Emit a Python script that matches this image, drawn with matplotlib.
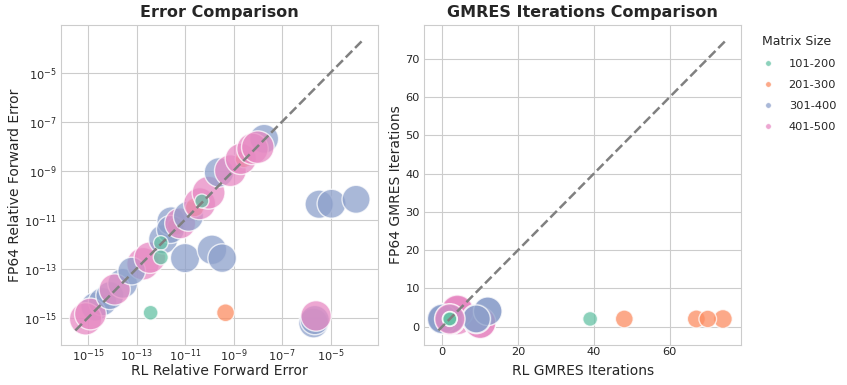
import numpy as np
import matplotlib
matplotlib.use("Agg")
import matplotlib.pyplot as plt
from matplotlib.lines import Line2D
from matplotlib.ticker import MultipleLocator, NullLocator
import seaborn as sns

# data (errors as powers of ten)
rl_err_exp = [-14.7, -14.4, -15.1, -14.9, -14.1, -13.57, -13.9, -12.73, -13.2, -12.45,
              -11.9, -11.57, -11.36, -11.6, -11.2, -10.86, -10.6, -10.4, -10.03, -9.6,
              -9.13, -8.57, -8.7, -7.74, -8.22, -8.0, -11.0, -9.89, -9.47, -5.47,
              -4.96, -3.95, -5.7, -5.65, -5.6, -9.33, -12.0, -12.0, -10.31, -12.42]
fp_err_exp = [-14.55, -14.35, -15.05, -14.85, -14.1, -13.6, -13.85, -12.8, -13.1, -12.55,
              -11.8, -11.06, -11.27, -11.4, -11.15, -10.86, -10.5, -10.35, -9.9, -9.07,
              -9.0, -8.52, -8.52, -7.7, -8.11, -8.04, -12.57, -12.23, -12.57, -10.37,
              -10.35, -10.17, -15.22, -15.1, -14.93, -14.8, -11.95, -12.54, -10.24, -14.8]
rl_iter = [2, 2, 2, 4, 0, 0, 2, 4, 2, 4,
           2, 2, 67, 0, 2, 0, 74, 2, 4, 9,
           10, 70, 4, 12, 10, 4, 0, 9, 12, 0,
           2, 9, 0, 2, 2, 48, 2, 2, 2, 39]
fp_iter = [2, 2, 2, 2, 2, 2, 2, 4, 2, 4,
           2, 2, 2, 2, 2, 2, 2, 2, 4, 2,
           1, 2, 4, 4, 1, 4, 2, 2, 4, 2,
           2, 2, 2, 2, 2, 2, 2, 2, 2, 2]
matrix_n = [360, 340, 480, 460, 330, 390, 440, 490, 320, 450,
            370, 350, 220, 330, 430, 400, 240, 470, 500, 380,
            460, 210, 440, 360, 450, 490, 370, 380, 350, 340,
            360, 330, 390, 370, 415, 215, 140, 150, 130, 145]

group_labels = ["101-200", "201-300", "301-400", "401-500"]
group_edges = [100, 200, 300, 400, 500]
err_ticks = [1e-15, 1e-13, 1e-11, 1e-9, 1e-7, 1e-5]

rl_err = 10.0 ** np.array(rl_err_exp)
fp_err = 10.0 ** np.array(fp_err_exp)
rl_iter = np.array(rl_iter)
fp_iter = np.array(fp_iter)
matrix_n = np.array(matrix_n)

sns.set_style("whitegrid")
plt.rcParams['font.family'] = ['DejaVu Sans']

palette = sns.color_palette("Set2", 4)
group_idx = np.digitize(matrix_n, group_edges[1:-1], right=True)
colors = [palette[g] for g in group_idx]
sizes = np.interp(matrix_n, [100, 250, 300, 500], [80, 190, 380, 560])

fig = plt.figure(figsize=(8.47, 3.85), dpi=100)
ax1 = fig.add_axes([0.072, 0.104, 0.374, 0.831])
ax2 = fig.add_axes([0.5006, 0.104, 0.3744, 0.831])

# error comparison
ax1.scatter(rl_err, fp_err, s=sizes, c=colors, alpha=0.75, edgecolors='white', linewidths=1)
lo = min(rl_err.min(), fp_err.min()) * 0.5
hi = max(rl_err.max(), fp_err.max()) * 2
ax1.plot([lo, hi], [lo, hi], '--', color='gray', lw=1.8)
ax1.set_xscale('log')
ax1.set_yscale('log')
ax1.set_xticks(err_ticks)
ax1.set_yticks(err_ticks)
ax1.xaxis.set_minor_locator(NullLocator())
ax1.yaxis.set_minor_locator(NullLocator())
ax1.set_title('Error Comparison', fontsize=11.5, fontweight='bold')
ax1.set_xlabel('RL Relative Forward Error', fontsize=10)
ax1.set_ylabel('FP64 Relative Forward Error', fontsize=10)
ax1.xaxis.set_label_coords(0.5, -0.06)
ax1.yaxis.set_label_coords(-0.123, 0.5)

# iterations comparison
ax2.scatter(rl_iter, fp_iter, s=sizes, c=colors, alpha=0.75, edgecolors='white', linewidths=1)
lo2 = min(rl_iter.min(), fp_iter.min()) - 1
hi2 = max(rl_iter.max(), fp_iter.max()) + 1
ax2.plot([lo2, hi2], [lo2, hi2], '--', color='gray', lw=1.8)
ax2.set_title('GMRES Iterations Comparison', fontsize=11.5, fontweight='bold')
ax2.set_xlabel('RL GMRES Iterations', fontsize=10)
ax2.set_ylabel('FP64 GMRES Iterations', fontsize=10)
ax2.xaxis.set_major_locator(MultipleLocator(20))
ax2.yaxis.set_major_locator(MultipleLocator(10))
ax2.xaxis.set_label_coords(0.5, -0.06)
ax2.yaxis.set_label_coords(-0.066, 0.5)

for ax in (ax1, ax2):
    ax.tick_params(axis='both', which='both', length=0, labelsize=8.2)
    ax.tick_params(axis='x', pad=1.5)
    ax.tick_params(axis='y', pad=3)

handles = [Line2D([], [], marker='o', ls='', color=palette[i], alpha=0.75,
                  markersize=4, markeredgecolor='white', markeredgewidth=0.5)
           for i in range(4)]
leg = ax2.legend(handles, group_labels, title='Matrix Size', loc='upper left',
                 bbox_to_anchor=(1.035, 1.0), frameon=False, fontsize=8.2,
                 title_fontsize=9, labelspacing=0.95, handlelength=1.0,
                 handletextpad=1.3)
leg._legend_box.align = "left"

fig.savefig('out.png', dpi=100)
